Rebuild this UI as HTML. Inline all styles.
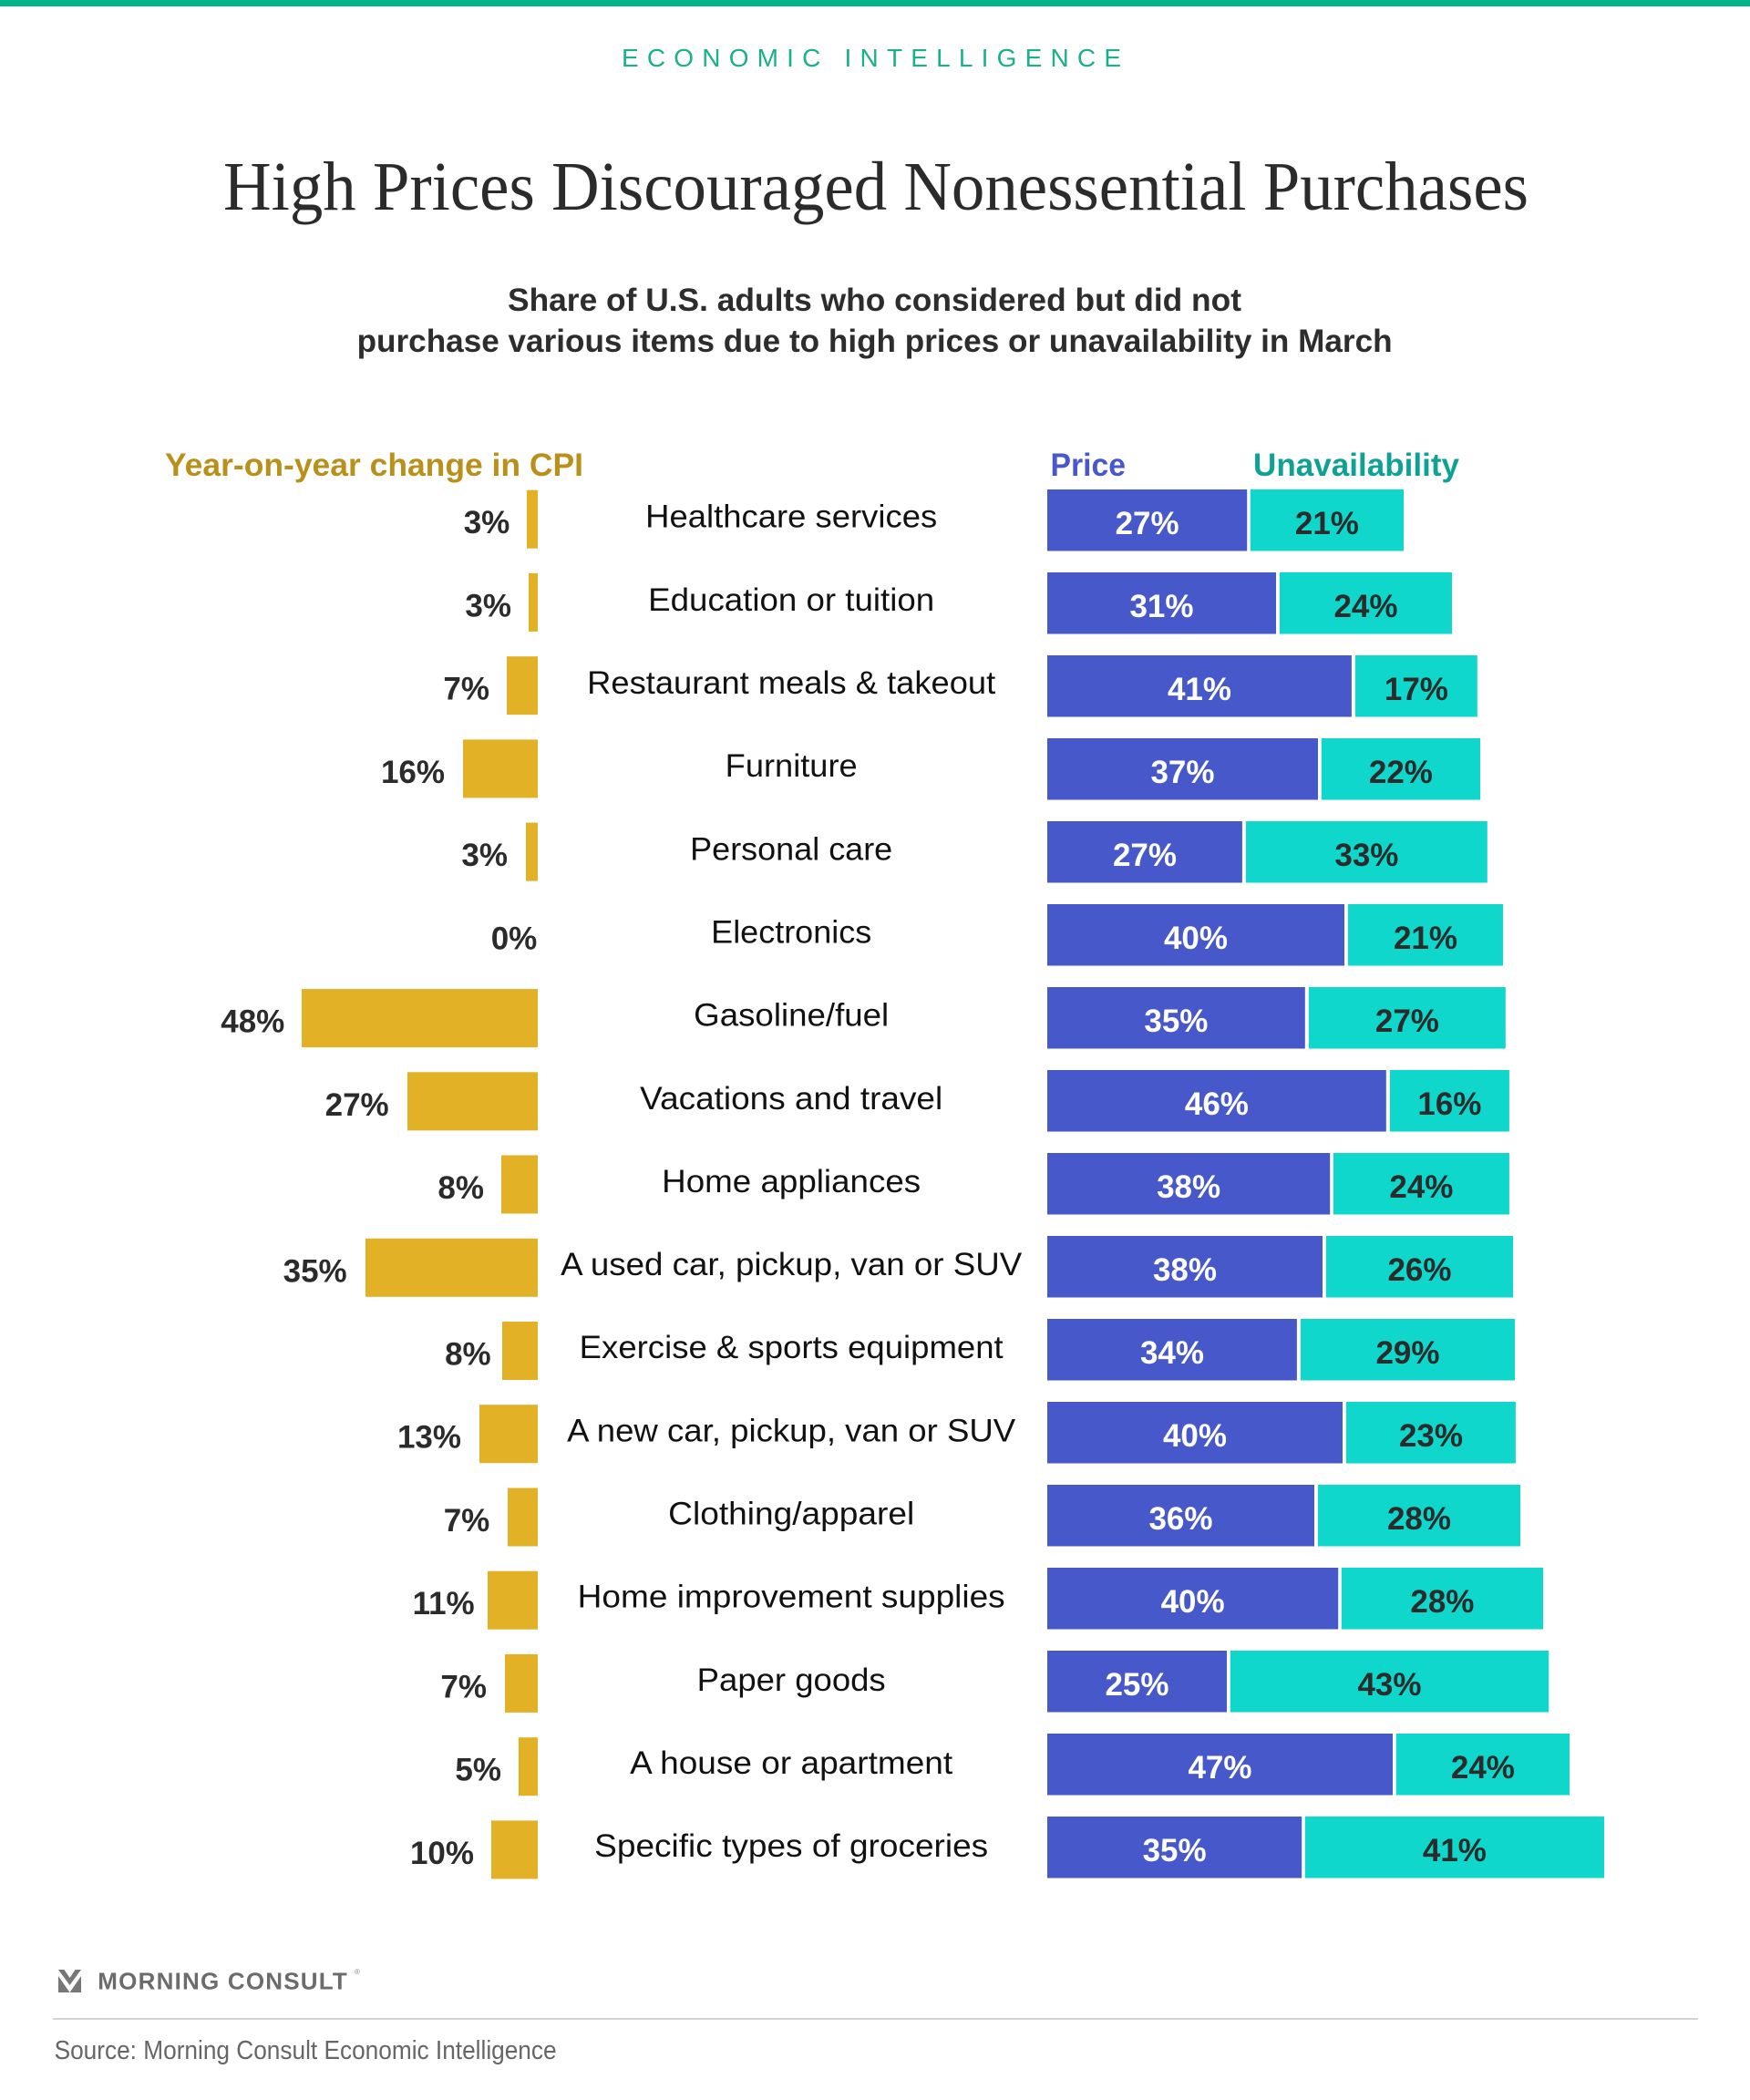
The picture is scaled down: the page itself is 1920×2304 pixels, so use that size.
<!DOCTYPE html>
<html><head><meta charset="utf-8">
<style>
html,body{margin:0;padding:0;background:#fff;}
svg{display:block;}
.s{font-family:"Liberation Sans",sans-serif;}
.v{font-family:"Liberation Sans",sans-serif;font-weight:bold;font-size:35px;}
.m{font-family:"Liberation Sans",sans-serif;font-size:35px;fill:#111;}
</style></head>
<body>
<svg width="1920" height="2304" viewBox="0 0 1920 2304" xmlns="http://www.w3.org/2000/svg">
<rect x="0" y="0" width="1920" height="2304" fill="#fff"/>
<rect x="0" y="0" width="1920" height="7" fill="#00b48a"/>

<text class="s" x="682" y="73" font-size="28" fill="#19b08a" textLength="548" lengthAdjust="spacing">ECONOMIC INTELLIGENCE</text>

<text x="961" y="230" text-anchor="middle" font-family="'Liberation Serif',serif" font-size="76" fill="#2b2b2b" textLength="1432" lengthAdjust="spacingAndGlyphs">High Prices Discouraged Nonessential Purchases</text>

<text class="s" x="959.5" y="341" text-anchor="middle" font-size="35" font-weight="bold" fill="#2d2d2d" textLength="805" lengthAdjust="spacingAndGlyphs">Share of U.S. adults who considered but did not</text>
<text class="s" x="959.6" y="386" text-anchor="middle" font-size="35" font-weight="bold" fill="#2d2d2d" textLength="1136" lengthAdjust="spacingAndGlyphs">purchase various items due to high prices or unavailability in March</text>

<text class="s" x="181" y="522" font-size="35" font-weight="bold" fill="#b8901b" textLength="459" lengthAdjust="spacingAndGlyphs">Year-on-year change in CPI</text>
<text class="s" x="1152.5" y="522" font-size="35" font-weight="bold" fill="#4757cc" textLength="82.5" lengthAdjust="spacingAndGlyphs">Price</text>
<text class="s" x="1375" y="522" font-size="35" font-weight="bold" fill="#10a195" textLength="226" lengthAdjust="spacingAndGlyphs">Unavailability</text>

<!-- CPI bars -->
<g fill="#e2b126">
<rect x="578" y="537.7" width="12" height="64"/>
<rect x="580" y="628.9" width="10" height="64"/>
<rect x="556" y="720.2" width="34" height="64"/>
<rect x="508" y="811.4" width="82" height="64"/>
<rect x="577" y="902.6" width="13" height="64"/>
<rect x="331" y="1085.1" width="259" height="64"/>
<rect x="447" y="1176.3" width="143" height="64"/>
<rect x="550" y="1267.5" width="40" height="64"/>
<rect x="401" y="1358.8" width="189" height="64"/>
<rect x="551" y="1450.0" width="39" height="64"/>
<rect x="526" y="1541.2" width="64" height="64"/>
<rect x="557" y="1632.5" width="33" height="64"/>
<rect x="535" y="1723.7" width="55" height="64"/>
<rect x="554" y="1814.9" width="36" height="64"/>
<rect x="569" y="1906.2" width="21" height="64"/>
<rect x="539" y="1997.4" width="51" height="64"/>
</g>
<g class="v" fill="#2b2b2b" text-anchor="end">
<text x="559.3" y="585.2">3%</text>
<text x="561" y="676.4">3%</text>
<text x="537" y="767.7">7%</text>
<text x="488" y="858.9">16%</text>
<text x="557" y="950.1">3%</text>
<text x="589.3" y="1041.4">0%</text>
<text x="312.3" y="1132.6">48%</text>
<text x="426.7" y="1223.8">27%</text>
<text x="531" y="1315.0">8%</text>
<text x="380.7" y="1406.3">35%</text>
<text x="538.7" y="1497.5">8%</text>
<text x="506" y="1588.7">13%</text>
<text x="537.3" y="1680.0">7%</text>
<text x="520.7" y="1771.2">11%</text>
<text x="534" y="1862.4">7%</text>
<text x="550" y="1953.7">5%</text>
<text x="520" y="2044.9">10%</text>
</g>

<!-- middle labels -->
<g class="m" text-anchor="middle">
<text x="868.2" y="578.7" textLength="320" lengthAdjust="spacingAndGlyphs">Healthcare services</text>
<text x="868.2" y="669.9" textLength="314" lengthAdjust="spacingAndGlyphs">Education or tuition</text>
<text x="868.2" y="761.0" textLength="448" lengthAdjust="spacingAndGlyphs">Restaurant meals &amp; takeout</text>
<text x="868.2" y="852.2" textLength="145" lengthAdjust="spacingAndGlyphs">Furniture</text>
<text x="868.2" y="943.3" textLength="222" lengthAdjust="spacingAndGlyphs">Personal care</text>
<text x="868.2" y="1034.5" textLength="176" lengthAdjust="spacingAndGlyphs">Electronics</text>
<text x="868.2" y="1125.6" textLength="214" lengthAdjust="spacingAndGlyphs">Gasoline/fuel</text>
<text x="868.2" y="1216.8" textLength="332" lengthAdjust="spacingAndGlyphs">Vacations and travel</text>
<text x="868.2" y="1307.9" textLength="284" lengthAdjust="spacingAndGlyphs">Home appliances</text>
<text x="868.2" y="1399.1" textLength="506" lengthAdjust="spacingAndGlyphs">A used car, pickup, van or SUV</text>
<text x="868.2" y="1490.2" textLength="465" lengthAdjust="spacingAndGlyphs">Exercise &amp; sports equipment</text>
<text x="868.2" y="1581.4" textLength="492" lengthAdjust="spacingAndGlyphs">A new car, pickup, van or SUV</text>
<text x="868.2" y="1672.5" textLength="270" lengthAdjust="spacingAndGlyphs">Clothing/apparel</text>
<text x="868.2" y="1763.7" textLength="469" lengthAdjust="spacingAndGlyphs">Home improvement supplies</text>
<text x="868.2" y="1854.8" textLength="207" lengthAdjust="spacingAndGlyphs">Paper goods</text>
<text x="868.2" y="1946.0" textLength="354" lengthAdjust="spacingAndGlyphs">A house or apartment</text>
<text x="868.2" y="2037.1" textLength="432" lengthAdjust="spacingAndGlyphs">Specific types of groceries</text>
</g>

<!-- price bars -->
<g fill="#4758cb">
<rect x="1149" y="537" width="219.2" height="67.5"/>
<rect x="1149" y="628" width="251" height="67.5"/>
<rect x="1149" y="719" width="333.9" height="67.5"/>
<rect x="1149" y="810" width="297" height="67.5"/>
<rect x="1149" y="901" width="213.9" height="67.5"/>
<rect x="1149" y="992" width="326" height="67.5"/>
<rect x="1149" y="1083" width="282.8" height="67.5"/>
<rect x="1149" y="1174" width="371.8" height="67.5"/>
<rect x="1149" y="1265" width="310.2" height="67.5"/>
<rect x="1149" y="1356" width="302" height="67.5"/>
<rect x="1149" y="1447" width="273.9" height="67.5"/>
<rect x="1149" y="1538" width="324" height="67.5"/>
<rect x="1149" y="1629" width="293" height="67.5"/>
<rect x="1149" y="1720" width="319.2" height="67.5"/>
<rect x="1149" y="1811" width="197" height="67.5"/>
<rect x="1149" y="1902" width="379" height="67.5"/>
<rect x="1149" y="1993" width="279.2" height="67.5"/>
</g>
<!-- unavailability bars -->
<g fill="#0fd7cb">
<rect x="1371.8" y="537" width="168.2" height="67.5"/>
<rect x="1404" y="628" width="189" height="67.5"/>
<rect x="1487" y="719" width="133.8" height="67.5"/>
<rect x="1449.8" y="810" width="174.2" height="67.5"/>
<rect x="1367" y="901" width="264.8" height="67.5"/>
<rect x="1479" y="992" width="170" height="67.5"/>
<rect x="1435.9" y="1083" width="215.9" height="67.5"/>
<rect x="1524.9" y="1174" width="131" height="67.5"/>
<rect x="1462.9" y="1265" width="193" height="67.5"/>
<rect x="1455" y="1356" width="205" height="67.5"/>
<rect x="1427" y="1447" width="235" height="67.5"/>
<rect x="1477" y="1538" width="185.9" height="67.5"/>
<rect x="1446" y="1629" width="222" height="67.5"/>
<rect x="1471.8" y="1720" width="221.2" height="67.5"/>
<rect x="1349.8" y="1811" width="349.4" height="67.5"/>
<rect x="1531.8" y="1902" width="190.2" height="67.5"/>
<rect x="1431.8" y="1993" width="328.2" height="67.5"/>
</g>
<g class="v" fill="#ffffff" text-anchor="middle">
<text x="1258.6" y="586">27%</text>
<text x="1274.5" y="677">31%</text>
<text x="1316" y="768">41%</text>
<text x="1297.5" y="859">37%</text>
<text x="1256" y="950">27%</text>
<text x="1312" y="1041">40%</text>
<text x="1290.4" y="1132">35%</text>
<text x="1334.9" y="1223">46%</text>
<text x="1304.1" y="1314">38%</text>
<text x="1300" y="1405">38%</text>
<text x="1286" y="1496">34%</text>
<text x="1311" y="1587">40%</text>
<text x="1295.5" y="1678">36%</text>
<text x="1308.6" y="1769">40%</text>
<text x="1247.5" y="1860">25%</text>
<text x="1338.5" y="1951">47%</text>
<text x="1288.6" y="2042">35%</text>
</g>
<g class="v" fill="#2b2b2b" text-anchor="middle">
<text x="1455.9" y="586">21%</text>
<text x="1498.5" y="677">24%</text>
<text x="1553.9" y="768">17%</text>
<text x="1536.9" y="859">22%</text>
<text x="1499.4" y="950">33%</text>
<text x="1564" y="1041">21%</text>
<text x="1543.9" y="1132">27%</text>
<text x="1590.4" y="1223">16%</text>
<text x="1559.4" y="1314">24%</text>
<text x="1557.5" y="1405">26%</text>
<text x="1544.5" y="1496">29%</text>
<text x="1570" y="1587">23%</text>
<text x="1557" y="1678">28%</text>
<text x="1582.4" y="1769">28%</text>
<text x="1524.5" y="1860">43%</text>
<text x="1626.9" y="1951">24%</text>
<text x="1595.9" y="2042">41%</text>
</g>

<!-- footer -->
<g fill="#777">
<polygon points="64,2161 70.5,2161 76.5,2170 82.5,2161 89,2161 76.5,2178"/>
<polygon points="64,2168 76.5,2186 89,2168 89,2186 64,2186"/>
</g>
<text class="s" x="107.3" y="2182.7" font-size="26" font-weight="bold" fill="#6b6b6b" textLength="273.5" lengthAdjust="spacing">MORNING CONSULT</text>
<text class="s" x="389" y="2166" font-size="8" fill="#888">®</text>
<rect x="58" y="2214" width="1805" height="2" fill="#d4d4d4"/>
<text class="s" x="59.6" y="2259" font-size="29" fill="#666" textLength="551" lengthAdjust="spacingAndGlyphs">Source: Morning Consult Economic Intelligence</text>
</svg>
</body></html>
